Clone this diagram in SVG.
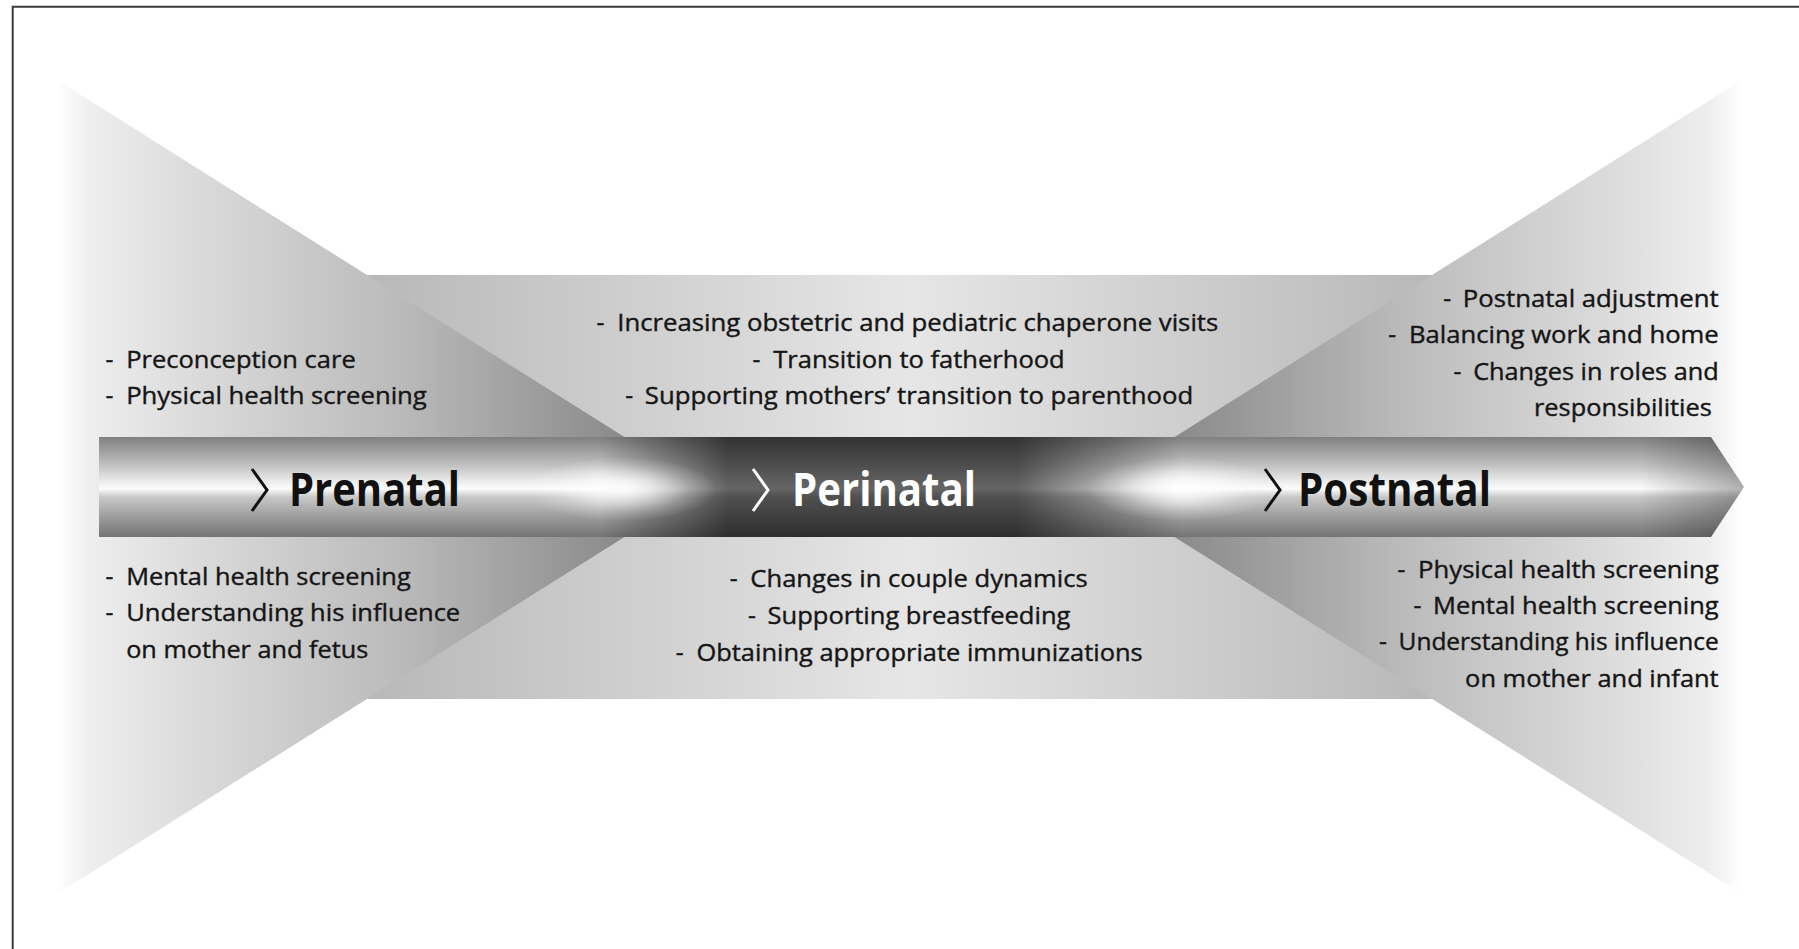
<svg xmlns="http://www.w3.org/2000/svg" width="1799" height="949" viewBox="0 0 1799 949">
<defs>
<style>
.t{font-family:"Open Sans","Liberation Sans",sans-serif;font-size:24.5px;fill:#151515;stroke:#151515;stroke-width:0.4px}
.lbl{font-family:"Open Sans","Liberation Sans",sans-serif;font-size:46px;font-weight:bold}
.chev{fill:none;stroke-width:3;stroke-linejoin:miter}
</style>
<linearGradient id="gWL" gradientUnits="userSpaceOnUse" x1="57" y1="0" x2="704" y2="0">
<stop offset="0" stop-color="#ffffff"/>
<stop offset="0.05" stop-color="#eeeeee"/>
<stop offset="0.22" stop-color="#dadada"/>
<stop offset="0.53" stop-color="#bababa"/>
<stop offset="0.87" stop-color="#8b8b8b"/>
<stop offset="1" stop-color="#7a7a7a"/>
</linearGradient>
<linearGradient id="gWR" gradientUnits="userSpaceOnUse" x1="1742" y1="0" x2="1095" y2="0">
<stop offset="0" stop-color="#ffffff"/>
<stop offset="0.05" stop-color="#eeeeee"/>
<stop offset="0.22" stop-color="#dadada"/>
<stop offset="0.53" stop-color="#bababa"/>
<stop offset="0.87" stop-color="#8b8b8b"/>
<stop offset="1" stop-color="#7a7a7a"/>
</linearGradient>
<linearGradient id="gBand" gradientUnits="userSpaceOnUse" x1="57" y1="0" x2="1742" y2="0">
<stop offset="0" stop-color="#b0b0b0"/>
<stop offset="0.184" stop-color="#b8b8b8"/>
<stop offset="0.506" stop-color="#e6e6e6"/>
<stop offset="0.816" stop-color="#b8b8b8"/>
<stop offset="1" stop-color="#b0b0b0"/>
</linearGradient>
<linearGradient id="gArrow" gradientUnits="userSpaceOnUse" x1="0" y1="437" x2="0" y2="537">
<stop offset="0" stop-color="#808080"/>
<stop offset="0.28" stop-color="#c0c0c0"/>
<stop offset="0.46" stop-color="#f0f0f0"/>
<stop offset="0.52" stop-color="#fbfbfb"/>
<stop offset="0.6" stop-color="#c8c8c8"/>
<stop offset="0.8" stop-color="#9c9c9c"/>
<stop offset="1" stop-color="#747474"/>
</linearGradient>
<linearGradient id="gDark" gradientUnits="userSpaceOnUse" x1="600" y1="0" x2="1180" y2="0">
<stop offset="0" stop-color="#000" stop-opacity="0"/>
<stop offset="0.22" stop-color="#000" stop-opacity="0.6"/>
<stop offset="0.72" stop-color="#000" stop-opacity="0.6"/>
<stop offset="1" stop-color="#000" stop-opacity="0"/>
</linearGradient>
<linearGradient id="gTip" gradientUnits="userSpaceOnUse" x1="1640" y1="0" x2="1744" y2="0">
<stop offset="0" stop-color="#000" stop-opacity="0"/>
<stop offset="1" stop-color="#000" stop-opacity="0.3"/>
</linearGradient>
<radialGradient id="gGlow">
<stop offset="0" stop-color="#fff" stop-opacity="0.95"/>
<stop offset="0.35" stop-color="#fff" stop-opacity="0.6"/>
<stop offset="0.7" stop-color="#fff" stop-opacity="0.2"/>
<stop offset="1" stop-color="#fff" stop-opacity="0"/>
</radialGradient>
<clipPath id="arrowClip"><polygon points="99,437 1711,437 1744,487 1711,537 99,537"/></clipPath>
</defs>
<rect x="0" y="0" width="1799" height="949" fill="#ffffff"/>

<g id="background">
<rect id="band" x="57" y="275" width="1685" height="424" fill="url(#gBand)"/>
<polygon id="wedge-left" points="57,80 704,487 57,894" fill="url(#gWL)"/>
<polygon id="wedge-right" points="1742,80 1095,487 1742,894" fill="url(#gWR)"/>
</g>

<g id="arrow">
<g clip-path="url(#arrowClip)">
<rect x="99" y="437" width="1645" height="100" fill="url(#gArrow)"/>
<rect x="99" y="437" width="1645" height="100" fill="url(#gDark)"/>
<rect x="99" y="437" width="1645" height="100" fill="url(#gTip)"/>
<ellipse cx="622" cy="489" rx="95" ry="32" fill="url(#gGlow)"/>
<ellipse cx="1182" cy="489" rx="95" ry="32" fill="url(#gGlow)"/>
</g>
</g>

<g id="stage-prenatal">
<polyline class="chev" stroke="#111" points="252,469 267,490 252,511"/>
<text class="lbl" x="289" y="506" fill="#111" textLength="171" lengthAdjust="spacingAndGlyphs">Prenatal</text>
</g>
<g id="stage-perinatal">
<polyline class="chev" stroke="#ffffff" points="753,469 768,490 753,511"/>
<text class="lbl" x="792" y="506" fill="#ffffff" textLength="184" lengthAdjust="spacingAndGlyphs">Perinatal</text>
</g>
<g id="stage-postnatal">
<polyline class="chev" stroke="#111" points="1265,469 1280,490 1265,511"/>
<text class="lbl" x="1298" y="506" fill="#111" textLength="193" lengthAdjust="spacingAndGlyphs">Postnatal</text>
</g>

<g id="prenatal-top">
<text class="t" y="368"><tspan x="105.6">-</tspan><tspan x="126.2" textLength="229.5" lengthAdjust="spacingAndGlyphs">Preconception care</tspan></text>
<text class="t" y="404"><tspan x="105.6">-</tspan><tspan x="126.2" textLength="300.6" lengthAdjust="spacingAndGlyphs">Physical health screening</tspan></text>
</g>
<g id="prenatal-bottom">
<text class="t" y="585"><tspan x="105.6">-</tspan><tspan x="126.2" textLength="284.5" lengthAdjust="spacingAndGlyphs">Mental health screening</tspan></text>
<text class="t" y="621"><tspan x="105.6">-</tspan><tspan x="126.2" textLength="334" lengthAdjust="spacingAndGlyphs">Understanding his influence</tspan></text>
<text class="t" x="126.2" y="658" textLength="242" lengthAdjust="spacingAndGlyphs">on mother and fetus</text>
</g>

<g id="perinatal-top">
<text class="t" y="331"><tspan x="596.6">-</tspan><tspan x="617.3" textLength="601" lengthAdjust="spacingAndGlyphs">Increasing obstetric and pediatric chaperone visits</tspan></text>
<text class="t" y="368"><tspan x="752.6">-</tspan><tspan x="773.3" textLength="291.4" lengthAdjust="spacingAndGlyphs">Transition to fatherhood</tspan></text>
<text class="t" y="404"><tspan x="625.3">-</tspan><tspan x="644.8" textLength="548.4" lengthAdjust="spacingAndGlyphs">Supporting mothers’ transition to parenthood</tspan></text>
</g>
<g id="perinatal-bottom">
<text class="t" y="587"><tspan x="729.7">-</tspan><tspan x="750.3" textLength="337.4" lengthAdjust="spacingAndGlyphs">Changes in couple dynamics</tspan></text>
<text class="t" y="624"><tspan x="748">-</tspan><tspan x="767.6" textLength="302.8" lengthAdjust="spacingAndGlyphs">Supporting breastfeeding</tspan></text>
<text class="t" y="661"><tspan x="675.8">-</tspan><tspan x="696.4" textLength="446.3" lengthAdjust="spacingAndGlyphs">Obtaining appropriate immunizations</tspan></text>
</g>

<g id="postnatal-top">
<text class="t" y="307"><tspan x="1443.3">-</tspan><tspan x="1462.8" textLength="255.9" lengthAdjust="spacingAndGlyphs">Postnatal adjustment</tspan></text>
<text class="t" y="343"><tspan x="1388.3">-</tspan><tspan x="1408.9" textLength="309.8" lengthAdjust="spacingAndGlyphs">Balancing work and home</tspan></text>
<text class="t" y="380"><tspan x="1453.6">-</tspan><tspan x="1473.2" textLength="245.5" lengthAdjust="spacingAndGlyphs">Changes in roles and</tspan></text>
<text class="t" x="1534" y="416" textLength="177.8" lengthAdjust="spacingAndGlyphs">responsibilities</text>
</g>
<g id="postnatal-bottom">
<text class="t" y="578"><tspan x="1397.4">-</tspan><tspan x="1418.1" textLength="300.6" lengthAdjust="spacingAndGlyphs">Physical health screening</tspan></text>
<text class="t" y="614"><tspan x="1413.5">-</tspan><tspan x="1433" textLength="285.7" lengthAdjust="spacingAndGlyphs">Mental health screening</tspan></text>
<text class="t" y="650"><tspan x="1379.1">-</tspan><tspan x="1398.6" textLength="320.1" lengthAdjust="spacingAndGlyphs">Understanding his influence</tspan></text>
<text class="t" x="1465.1" y="687" textLength="253.6" lengthAdjust="spacingAndGlyphs">on mother and infant</text>
</g>

<g id="connectors"></g>

<path id="frame" d="M12.7,949 V6.7 H1799" fill="none" stroke="#3a3a3a" stroke-width="2"/>
</svg>
